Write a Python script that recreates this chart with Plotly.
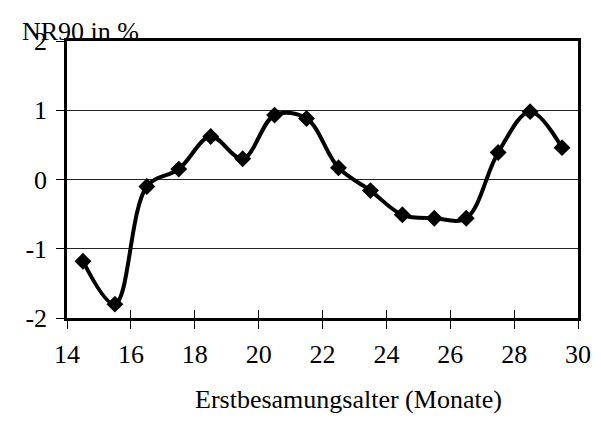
import plotly.graph_objects as go

# Data
age_months = [14.5, 15.5, 16.5, 17.5, 18.5, 19.5, 20.5, 21.5, 22.5, 23.5, 24.5, 25.5, 26.5, 27.5, 28.5, 29.5]
nr90_pct = [-1.18, -1.80, -0.10, 0.15, 0.62, 0.30, 0.93, 0.88, 0.17, -0.16, -0.51, -0.56, -0.56, 0.39, 0.98, 0.46]
x_ticks = [14, 16, 18, 20, 22, 24, 26, 28, 30]
y_ticks = [-2, -1, 0, 1, 2]

FONT = "Liberation Serif, Times New Roman, serif"
FS = 26

fig = go.Figure()
fig.add_trace(go.Scatter(
    x=age_months, y=nr90_pct, mode="lines+markers",
    line=dict(color="black", width=4, shape="spline", smoothing=1),
    marker=dict(symbol="diamond", size=13, color="black"),
    showlegend=False, hoverinfo="skip"))
# invisible trace for the overlay axis that draws the inner half of the x ticks
fig.add_trace(go.Scatter(x=[14, 30], y=[-2, -2], xaxis="x2", mode="none",
                         showlegend=False, hoverinfo="skip"))


def px(x):
    return (x - 59) / 511


fig.update_layout(
    width=601, height=424,
    margin=dict(l=59, r=31, t=33, b=114),
    paper_bgcolor="white", plot_bgcolor="white",
    font=dict(family=FONT, size=FS, color="black"),
    xaxis=dict(range=[14, 30], tickvals=x_ticks, ticktext=[str(v) for v in x_ticks],
               ticks="outside", ticklen=8, tickwidth=1, tickcolor="black",
               showline=True, linecolor="black", linewidth=2.5, mirror=True,
               showgrid=False, zeroline=False, ticklabelstandoff=3,
               tickfont=dict(family=FONT, size=FS, color="black")),
    xaxis2=dict(range=[14, 30], overlaying="x", anchor="y", side="bottom",
                tickvals=x_ticks, ticks="inside", ticklen=8, tickwidth=1,
                tickcolor="black", showticklabels=False, showline=False,
                showgrid=False, zeroline=False),
    yaxis=dict(range=[-2, 2], tickvals=y_ticks, ticktext=[str(v) for v in y_ticks],
               ticks="outside", ticklen=8, tickwidth=1, tickcolor="black",
               showline=True, linecolor="black", linewidth=2.5, mirror=True,
               showgrid=True, gridcolor="#222222", gridwidth=1,
               zeroline=False, ticklabelstandoff=4,
               tickfont=dict(family=FONT, size=FS, color="black")),
    annotations=[
        dict(text="NR90 in %", xref="paper", yref="paper", x=px(12), y=1,
             xanchor="left", yanchor="bottom", yshift=-7, showarrow=False,
             font=dict(family=FONT, size=FS, color="black")),
        dict(text="Erstbesamungsalter (Monate)", xref="paper", yref="paper",
             x=px(340), y=0, xanchor="center", yanchor="top", yshift=-65,
             showarrow=False, font=dict(family=FONT, size=FS, color="black")),
    ],
)

fig.write_html("out.html")
